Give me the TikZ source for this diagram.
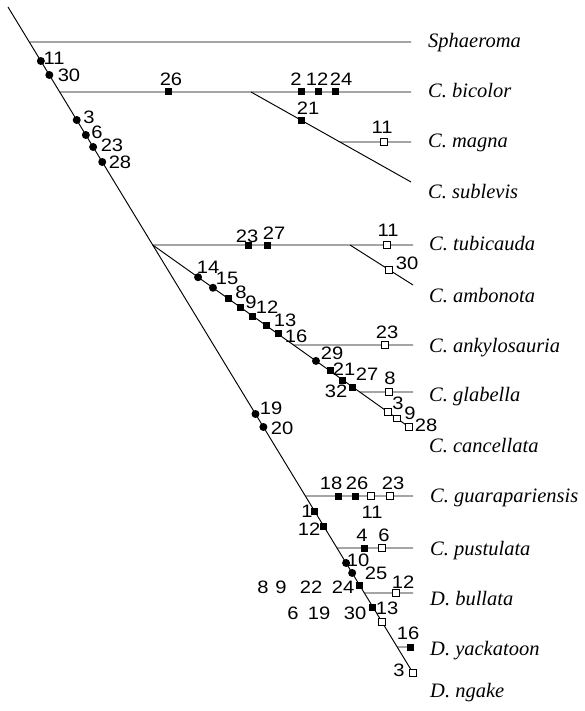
\documentclass[tikz,border=0pt]{standalone}
\usepackage{fontspec}
\setmainfont{Liberation Serif}
\newfontfamily\numfont[FakeStretch=1.12]{Liberation Sans}
\usetikzlibrary{calc}
\tikzset{
  trunk/.style={line width=0.95pt},
  twig/.style={line width=0.8pt},
  dotm/.style={circle,fill=black,inner sep=0pt,minimum size=8pt},
  fsq/.style={rectangle,fill=black,inner sep=0pt,minimum size=7pt},
  osq/.style={rectangle,draw=black,fill=white,line width=0.7pt,inner sep=0pt,minimum size=6.5pt},
  num/.style={font=\numfont\fontsize{18}{20}\selectfont,inner sep=0pt,anchor=center},
  taxon/.style={font=\itshape\fontsize{20.5}{22}\selectfont,anchor=base west,inner sep=0pt},
}
\begin{document}
\begin{tikzpicture}[x=1pt,y=-1pt]
\useasboundingbox (0,0) rectangle (584,711);
% main line
\coordinate (root) at (8,7);
\coordinate (ngake) at (413,673);
% tips
\coordinate (tSph) at (411,42);
\coordinate (tBic) at (411,92);
\coordinate (tMag) at (411,142);
\coordinate (tSub) at (411,182);
\coordinate (tTub) at (413,245);
\coordinate (tAmb) at (413,285);
\coordinate (tAnk) at (413,345);
\coordinate (tGla) at (413,392);
\coordinate (tCan) at (409,427);
\coordinate (tGua) at (413,496);
\coordinate (tPus) at (413,548);
\coordinate (tBul) at (413,593);
\coordinate (tYac) at (410,647);
% branch points on the main line
\coordinate (bSph) at ($(root)!{(42-7)/666}!(ngake)$);
\coordinate (bBic) at ($(root)!{(92-7)/666}!(ngake)$);
\coordinate (bTub) at ($(root)!{(245-7)/666}!(ngake)$);
\coordinate (bGua) at ($(root)!{(496-7)/666}!(ngake)$);
\coordinate (bPus) at ($(root)!{(548-7)/666}!(ngake)$);
\coordinate (bBul) at ($(root)!{(593-7)/666}!(ngake)$);
\coordinate (bYac) at ($(root)!{(647-7)/666}!(ngake)$);
% other branch points
\coordinate (bSub) at (251,92);
\coordinate (bMag) at ($(bSub)!{50/90}!(tSub)$);
\coordinate (bAmb) at (350,245);
\coordinate (bAnk) at ($(bTub)!{100/182}!(tCan)$);
\coordinate (bGla) at ($(bTub)!{147/182}!(tCan)$);

% lines
\draw[trunk] (root) -- (ngake);
\draw[twig] (bSph) -- (tSph);
\draw[twig] (bBic) -- (tBic);
\draw[trunk] (bSub) -- (tSub);
\draw[twig] (bMag) -- (tMag);
\draw[twig] (bTub) -- (tTub);
\draw[trunk] (bAmb) -- (tAmb);
\draw[trunk] (bTub) -- (tCan);
\draw[twig] (bAnk) -- (tAnk);
\draw[twig] (bGla) -- (tGla);
\draw[twig] (bGua) -- (tGua);
\draw[twig] (bPus) -- (tPus);
\draw[twig] (bBul) -- (tBul);
\draw[twig] (bYac) -- (tYac);

% markers on main line
\path (root) -- (ngake)
  node[dotm,pos=0.0811] (mA11) {}
  node[dotm,pos=0.1021] (mA30) {}
  node[dotm,pos=0.1697] (mA3) {}
  node[dotm,pos=0.1922] (mA6) {}
  node[dotm,pos=0.2102] (mA23) {}
  node[dotm,pos=0.2327] (mA28) {}
  node[dotm,pos=0.6111] (mA19) {}
  node[dotm,pos=0.6306] (mA20) {}
  node[fsq,pos=0.7568] (mA1) {}
  node[fsq,pos=0.7793] (mA12) {}
  node[dotm,pos=0.8348] (mA10) {}
  node[dotm,pos=0.8498] (mA25) {}
  node[fsq,pos=0.8679] (mA24) {}
  node[fsq,pos=0.9009] (mA30b) {}
  node[osq,pos=0.9234] (mA13) {}
  node[osq,pos=1] (mA3b) {};
% bicolor clade
\node[fsq] (mB26) at (168,92) {};
\node[fsq] (mB2) at (301,92) {};
\node[fsq] (mB12) at (318,92) {};
\node[fsq] (mB24) at (335,92) {};
\path (bSub) -- (tSub) node[fsq,pos=0.3125] (mB21) {};
\node[osq] (mB11) at (384,142) {};
% tubicauda
\node[fsq] (mT23) at (248,245) {};
\node[fsq] (mT27) at (267,245) {};
\node[osq] (mT11) at (387,245) {};
\path (bAmb) -- (tAmb) node[osq,pos=0.619] (mT30) {};
% second clade
\path (bTub) -- (tCan)
  node[dotm,pos=0.177] (mC14) {}
  node[dotm,pos=0.235] (mC15) {}
  node[fsq,pos=0.294] (mC8) {}
  node[fsq,pos=0.341] (mC9) {}
  node[fsq,pos=0.391] (mC12) {}
  node[fsq,pos=0.442] (mC13) {}
  node[fsq,pos=0.489] (mC16) {}
  node[dotm,pos=0.637] (mC29) {}
  node[fsq,pos=0.692] (mC21) {}
  node[fsq,pos=0.742] (mC32) {}
  node[fsq,pos=0.781] (mC27) {}
  node[osq,pos=0.918] (mC3) {}
  node[osq,pos=0.953] (mC9b) {}
  node[osq,pos=1] (mC28) {};
\node[osq] (mK23) at (385,345) {};
\node[osq] (mG8) at (389,392) {};
% lower clade
\node[fsq] (mU18) at (338,496) {};
\node[fsq] (mU26) at (355,496) {};
\node[osq] (mU11) at (371,496) {};
\node[osq] (mU23) at (390,496) {};
\node[fsq] (mP4) at (364,548) {};
\node[osq] (mP6) at (382,548) {};
\node[osq] (mD12) at (396,593) {};
\node[fsq] (mY16) at (tYac) {};

% numbers
\node[num] (n1) at (54,58) {11};
\node[num] (n2) at (69,75) {30};
\node[num] (n3) at (171,79) {26};
\node[num] (n4) at (89,117) {3};
\node[num] (n5) at (97,132) {6};
\node[num] (n6) at (112,145) {23};
\node[num] (n7) at (120,162) {28};
\node[num] (n8) at (296,79) {2};
\node[num] (n9) at (317,79) {12};
\node[num] (n10) at (341,79) {24};
\node[num] (n11) at (308,108) {21};
\node[num] (n12) at (382,127) {11};
\node[num] (n13) at (247,236) {23};
\node[num] (n14) at (274,233) {27};
\node[num] (n15) at (388,230) {11};
\node[num] (n16) at (407,263) {30};
\node[num] (n17) at (208,267) {14};
\node[num] (n18) at (227,278) {15};
\node[num] (n19) at (241,292) {8};
\node[num] (n20) at (251,302) {9};
\node[num] (n21) at (267,307) {12};
\node[num] (n22) at (285,320) {13};
\node[num] (n23) at (296,336) {16};
\node[num] (n24) at (387,332) {23};
\node[num] (n25) at (332,353) {29};
\node[num] (n26) at (344,369) {21};
\node[num] (n27) at (367,374) {27};
\node[num] (n28) at (336,391) {32};
\node[num] (n29) at (390,378) {8};
\node[num] (n30) at (398,403) {3};
\node[num] (n31) at (410,413) {9};
\node[num] (n32) at (426,425) {28};
\node[num] (n33) at (271,408) {19};
\node[num] (n34) at (282,428) {20};
\node[num] (n35) at (331,483) {18};
\node[num] (n36) at (357,483) {26};
\node[num] (n37) at (393,483) {23};
\node[num] (n38) at (372,512) {11};
\node[num] (n39) at (307,511) {1};
\node[num] (n40) at (309,529) {12};
\node[num] (n41) at (362,535) {4};
\node[num] (n42) at (384,535) {6};
\node[num] (n43) at (358,560) {10};
\node[num] (n44) at (376,573) {25};
\node[num] (n45) at (263,587) {8};
\node[num] (n46) at (281,587) {9};
\node[num] (n47) at (311,587) {22};
\node[num] (n48) at (343,587) {24};
\node[num] (n49) at (403,582) {12};
\node[num] (n50) at (293,613) {6};
\node[num] (n51) at (319,613) {19};
\node[num] (n52) at (355,613) {30};
\node[num] (n53) at (387,608) {13};
\node[num] (n54) at (408,633) {16};
\node[num] (n55) at (399,670) {3};

% taxa
\node[taxon] (xSph) at (428,48) {Sphaeroma};
\node[taxon] (xBic) at (428,98) {C. bicolor};
\node[taxon] (xMag) at (428,148) {C. magna};
\node[taxon] (xSub) at (428,199) {C. sublevis};
\node[taxon] (xTub) at (429,250) {C. tubicauda};
\node[taxon] (xAmb) at (429,302) {C. ambonota};
\node[taxon] (xAnk) at (429,352) {C. ankylosauria};
\node[taxon] (xGla) at (429,401) {C. glabella};
\node[taxon] (xCan) at (429,452) {C. cancellata};
\node[taxon] (xGua) at (430,502) {C. guarapariensis};
\node[taxon] (xPus) at (430,555) {C. pustulata};
\node[taxon] (xBul) at (430,605) {D. bullata};
\node[taxon] (xYac) at (430,655) {D. yackatoon};
\node[taxon] (xNga) at (430,697) {D. ngake};
\end{tikzpicture}
\end{document}
